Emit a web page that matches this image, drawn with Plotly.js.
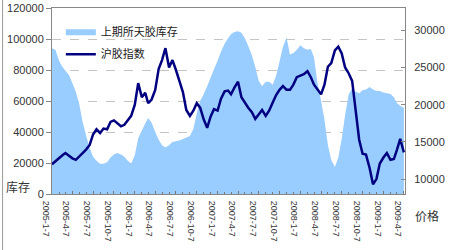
<!DOCTYPE html>
<html>
<head>
<meta charset="utf-8">
<script src="https://cdn.plot.ly/plotly-3.0.1.min.js"></script>
<style>html,body{margin:0;padding:0;background:#fff;}#chart{width:450px;height:250px;}</style>
</head>
<body>
<div id="chart"></div>
<script>
// Dates (semi-monthly samples)
const dates = [
"2005-01-07","2005-01-22","2005-02-07","2005-02-22","2005-03-07","2005-03-22","2005-04-07","2005-04-22","2005-05-07","2005-05-22","2005-06-07","2005-06-22",
"2005-07-07","2005-07-22","2005-08-07","2005-08-22","2005-09-07","2005-09-22","2005-10-07","2005-10-22","2005-11-07","2005-11-22","2005-12-07","2005-12-22",
"2006-01-07","2006-01-22","2006-02-07","2006-02-22","2006-03-07","2006-03-22","2006-04-07","2006-04-22","2006-05-07","2006-05-22","2006-06-07","2006-06-22",
"2006-07-07","2006-07-22","2006-08-07","2006-08-22","2006-09-07","2006-09-22","2006-10-07","2006-10-22","2006-11-07","2006-11-22","2006-12-07","2006-12-22",
"2007-01-07","2007-01-22","2007-02-07","2007-02-22","2007-03-07","2007-03-22","2007-04-07","2007-04-22","2007-05-07","2007-05-22","2007-06-07","2007-06-22",
"2007-07-07","2007-07-22","2007-08-07","2007-08-22","2007-09-07","2007-09-22","2007-10-07","2007-10-22","2007-11-07","2007-11-22","2007-12-07","2007-12-22",
"2008-01-07","2008-01-22","2008-02-07","2008-02-22","2008-03-07","2008-03-22","2008-04-07","2008-04-22","2008-05-07","2008-05-22","2008-06-07","2008-06-22",
"2008-07-07","2008-07-22","2008-08-07","2008-08-22","2008-09-07","2008-09-22","2008-10-07","2008-10-22","2008-11-07","2008-11-22","2008-12-07","2008-12-22",
"2009-01-07","2009-01-22","2009-02-07","2009-02-22","2009-03-07","2009-03-22","2009-04-07"
];

// 上期所天胶库存 (left axis)
const inventory = [
94000,93000,86000,82000,79500,77000,71500,66000,58000,46500,37500,29500,
24000,21500,19500,19500,20500,23500,25500,26500,25500,24000,21500,19500,
25000,36000,41000,45500,49000,46000,40000,35000,31500,30000,31500,33500,
34000,34500,35500,36500,37500,42000,52000,60000,64500,69500,75000,80500,
86000,92000,97000,100500,103000,104500,105000,104000,100500,95500,89500,82000,
73000,69500,72500,72500,70500,76500,85500,95000,101000,90000,91000,93000,
96000,94000,93000,93500,88000,72000,60000,48000,31600,22000,17500,23500,
35500,51000,64500,68000,66000,65000,67000,67500,69000,67500,66500,66500,
65500,65000,64500,62500,58700,57000,55500
];

// 沪胶指数 (right axis)
const priceIndex = [
12000,12400,12900,13200,13500,13100,12800,12600,13000,13500,14000,14600,
16000,16700,16200,16800,16700,17700,17900,17500,17100,17300,17900,18500,
20000,22900,21000,21600,20200,20700,22000,24800,26000,27600,25000,26000,
24700,23100,21700,19300,18500,19200,20200,19600,18000,16900,18400,19400,
19200,20800,21800,21900,21400,22300,23100,21000,20200,19600,19000,18100,
18700,19300,18500,19200,20300,21300,22000,22500,22000,22000,22700,23700,
23900,24100,24500,23700,22700,22100,21400,22700,25100,25600,27300,27800,
26900,25000,24200,23200,19400,15300,13400,13300,11500,9300,10000,12100,
12900,13500,12600,12700,13900,15400,13600
];

// Category tick labels
const tickDates = ["2005-01-07","2005-04-07","2005-07-07","2005-10-07","2006-01-07","2006-04-07","2006-07-07","2006-10-07",
"2007-01-07","2007-04-07","2007-07-07","2007-10-07","2008-01-07","2008-04-07","2008-07-07","2008-10-07","2009-01-07","2009-04-07"];
const tickLabels = ["2005-1-7","2005-4-7","2005-7-7","2005-10-7","2006-1-7","2006-4-7","2006-7-7","2006-10-7",
"2007-1-7","2007-4-7","2007-7-7","2007-10-7","2008-1-7","2008-4-7","2008-7-7","2008-10-7","2009-1-7","2009-4-7"];

const seriesNames = ["上期所天胶库存","沪胶指数"];

const traces = [
  {x: dates, y: inventory, name: seriesNames[0], type: 'scatter', mode: 'none', fill: 'tozeroy',
   fillcolor: '#99CCFF', yaxis: 'y', legendgroup: 'a'},
  {x: dates, y: priceIndex, name: seriesNames[1], type: 'scatter', mode: 'lines',
   line: {color: '#000080', width: 2.5}, yaxis: 'y2', legendgroup: 'b'}
];

const cjk = '"Noto Sans CJK SC", "Liberation Sans", sans-serif';
const layout = {
  width: 450, height: 250,
  margin: {l: 52, r: 45, t: 8, b: 56},
  paper_bgcolor: '#fff', plot_bgcolor: '#fff',
  font: {family: '"Liberation Sans", "Noto Sans CJK SC", sans-serif', color: '#333'},
  showlegend: true,
  legend: {x: 0.025, y: 0.948, xanchor: 'left', yanchor: 'top', bgcolor: 'rgba(0,0,0,0)',
           font: {size: 11, family: cjk, color: '#222'}, traceorder: 'grouped', tracegroupgap: 3},
  xaxis: {
    type: 'date', range: ['2005-01-07', '2009-04-12'],
    tickmode: 'array', tickvals: tickDates, ticktext: tickLabels,
    tickangle: 90, tickfont: {size: 9, color: '#333'},
    ticks: 'inside', ticklen: 3, tickcolor: '#777',
    minor: {dtick: 'M1', tick0: '2005-01-07', ticks: 'inside', ticklen: 2, tickcolor: '#777'},
    ticklabelshift: -6, ticklabelstandoff: 4,
    showline: true, linecolor: '#888', linewidth: 1, mirror: true,
    showgrid: false, zeroline: false
  },
  yaxis: {
    range: [0, 120000], dtick: 20000, tickformat: 'd',
    ticks: 'outside', ticklen: 5, tickcolor: '#888',
    tickfont: {size: 11, color: '#333'},
    showline: true, linecolor: '#888', linewidth: 1,
    showgrid: true, gridcolor: '#c4c4c4', griddash: 'dash', gridwidth: 1,
    zeroline: false
  },
  yaxis2: {
    overlaying: 'y', side: 'right',
    range: [8000, 33000], dtick: 5000, tickformat: 'd',
    ticks: 'inside', ticklen: 4, tickcolor: '#888',
    tickfont: {size: 11, color: '#333'}, ticklabelstandoff: 6,
    showline: true, linecolor: '#888', linewidth: 1,
    showgrid: false, zeroline: false
  },
  annotations: [
    {text: '库存', xref: 'paper', yref: 'paper', x: -0.096, y: 0.04, xanchor: 'center', yanchor: 'middle',
     showarrow: false, font: {size: 12, family: cjk, color: '#333'}},
    {text: '价格', xref: 'paper', yref: 'paper', x: 1.062, y: -0.113, xanchor: 'center', yanchor: 'middle',
     showarrow: false, font: {size: 12, family: cjk, color: '#333'}}
  ],
  shapes: [
    {type: 'line', xref: 'paper', yref: 'paper', x0: -0.14, x1: -0.14, y0: -0.31, y1: 1.05,
     line: {color: '#999', width: 1}}
  ]
};

Plotly.newPlot('chart', traces, layout, {displayModeBar: false, staticPlot: true});
</script>
</body>
</html>
